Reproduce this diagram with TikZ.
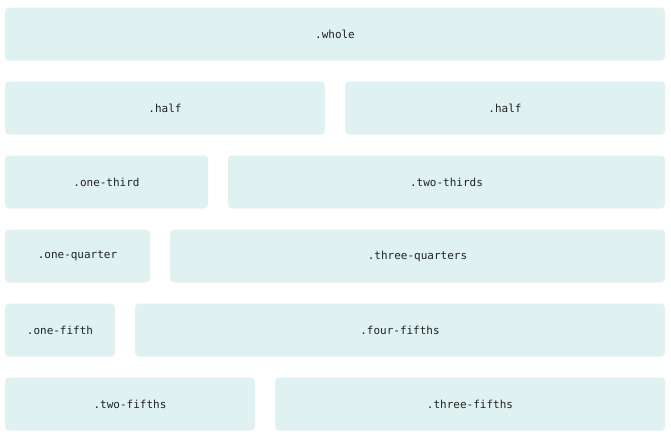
\documentclass[tikz,border=0pt]{standalone}
\usepackage{fontspec}
\setmonofont{DejaVu Sans Mono}
\definecolor{cellfill}{HTML}{E0F1F1}
\definecolor{celltext}{HTML}{222222}
\tikzset{
  cell/.style={fill=cellfill, rounded corners=4pt, minimum height=53pt, inner sep=0pt,
    text=celltext, font=\fontsize{11}{12}\selectfont\ttfamily}
}
\begin{document}
\begin{tikzpicture}[x=1pt, y=-1pt]
	\useasboundingbox (0,0) rectangle (671,437);
	
	\node[cell, minimum width=660pt] (whole) at (335,34) {.whole};
	
	\node[cell, minimum width=320pt] (halfa) at (165,108) {.half};
	\node[cell, minimum width=320pt] (halfb) at (505,108) {.half};
	
	\node[cell, minimum width=203pt] (third) at (106.5,182) {.one-third};
	\node[cell, minimum width=437pt] (twothirds) at (446.5,182) {.two-thirds};
	
	\node[cell, minimum width=145pt] (quarter) at (77.5,256) {.one-quarter};
	\node[cell, minimum width=495pt] (threequarters) at (417.5,256) {.three-quarters};
	
	\node[cell, minimum width=110pt] (fifth) at (60,330) {.one-fifth};
	\node[cell, minimum width=530pt] (fourfifths) at (400,330) {.four-fifths};
	
	\node[cell, minimum width=250pt] (twofifths) at (130,404) {.two-fifths};
	\node[cell, minimum width=390pt] (threefifths) at (470,404) {.three-fifths};
	
\end{tikzpicture}
\end{document}
